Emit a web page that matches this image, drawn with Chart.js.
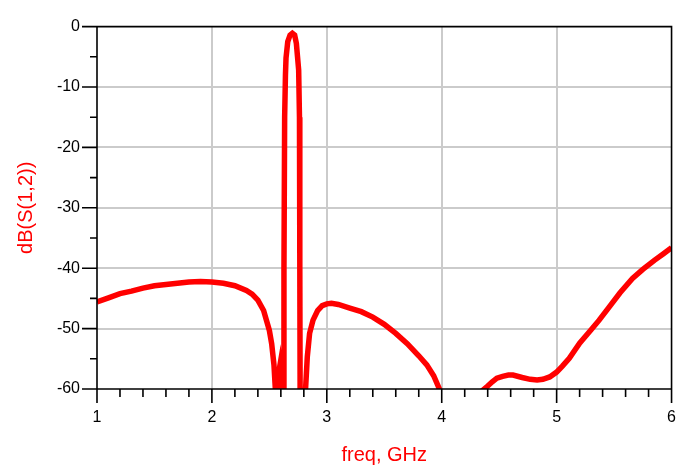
<!DOCTYPE html>
<html>
<head>
<meta charset="utf-8">
<script src="https://cdn.jsdelivr.net/npm/chart.js@4"></script>
<style>
  html, body { margin: 0; padding: 0; background: #fff; }
  #c { display: block; }
</style>
</head>
<body>
<canvas id="c" width="695" height="471"></canvas>
<script>
// ---- data ----
const freqGHz = [
  1.00, 1.10, 1.20, 1.30, 1.40, 1.50, 1.60, 1.70, 1.80, 1.90,
  2.00, 2.10, 2.20, 2.30, 2.35, 2.40, 2.45, 2.50, 2.52, 2.54,
  2.555, 2.575, 2.59, 2.605, 2.615, 2.622, 2.627, 2.633, 2.64, 2.645,
  2.66, 2.68, 2.70, 2.72, 2.735, 2.745, 2.755, 2.762, 2.765, 2.768,
  2.79, 2.815, 2.83, 2.85, 2.88, 2.92, 2.96, 3.00, 3.04, 3.10,
  3.20, 3.30, 3.40, 3.50, 3.60, 3.70, 3.80, 3.87, 3.93, 3.98,
  4.05, 4.20, 4.33, 4.357, 4.40, 4.44, 4.48, 4.53, 4.58, 4.62,
  4.70, 4.77, 4.83, 4.88, 4.94, 5.00, 5.05, 5.11, 5.20, 5.30,
  5.37, 5.45, 5.55, 5.66, 5.75, 5.85, 5.93, 6.00
];
const dbS12 = [
  -45.6, -44.9, -44.2, -43.8, -43.3, -42.9, -42.7, -42.5, -42.3, -42.2,
  -42.3, -42.5, -42.9, -43.7, -44.3, -45.3, -47.0, -50.3, -52.5, -56.0,
  -61.0, -58.0, -56.3, -60.0, -63.0, -62.0, -40.0, -15.0, -8.0, -5.2,
  -2.5, -1.4, -1.1, -1.4, -2.8, -5.0, -7.2, -15.0, -40.0, -64.0,
  -66.0, -60.0, -54.7, -50.8, -48.6, -47.0, -46.2, -45.9, -45.8, -46.0,
  -46.6, -47.2, -48.1, -49.3, -50.8, -52.5, -54.5, -56.0, -57.8, -60.0,
  -63.0, -66.0, -62.0, -60.2, -59.5, -58.8, -58.2, -57.9, -57.7, -57.7,
  -58.1, -58.4, -58.5, -58.4, -58.0, -57.2, -56.2, -54.9, -52.4, -50.2,
  -48.6, -46.6, -44.1, -41.7, -40.2, -38.7, -37.6, -36.6
];
const xTickValues = [1, 2, 3, 4, 5, 6];
const yTickValues = [0, -10, -20, -30, -40, -50, -60];
const xTitle = 'freq, GHz';
const yTitle = 'dB(S(1,2))';

const points = freqGHz.map((f, i) => ({ x: f, y: dbS12[i] }));
const FONT = '"Liberation Sans", Arial, sans-serif';

const framePlugin = {
  id: 'frame',
  afterDraw(chart) {
    const { ctx, chartArea: a, scales: { x, y } } = chart;
    ctx.save();
    ctx.strokeStyle = '#000';
    ctx.lineWidth = 1.6;
    ctx.lineCap = 'butt';
    ctx.beginPath();
    // left axis + bottom axis
    ctx.moveTo(a.left, a.top); ctx.lineTo(a.left, a.bottom);
    ctx.moveTo(a.left, a.bottom); ctx.lineTo(a.right, a.bottom);
    // top and right frame
    ctx.moveTo(a.left, a.top); ctx.lineTo(a.right, a.top); ctx.lineTo(a.right, a.bottom);
    // y ticks (major every 10, minor every 5)
    for (let v = 0; v >= -60; v -= 5) {
      const py = y.getPixelForValue(v);
      const len = (v % 10 === 0) ? 15 : 7;
      ctx.moveTo(a.left - len, py); ctx.lineTo(a.left, py);
    }
    // x ticks (major every 1, minor every 0.2)
    for (let k = 0; k <= 25; k++) {
      const v = 1 + k * 0.2;
      const px = x.getPixelForValue(v);
      const len = (k % 5 === 0) ? 14 : 8;
      ctx.moveTo(px, a.bottom); ctx.lineTo(px, a.bottom + len);
    }
    ctx.stroke();
    ctx.restore();
  }
};

new Chart(document.getElementById('c'), {
  type: 'scatter',
  data: {
    datasets: [{
      data: points,
      showLine: true,
      borderColor: '#ff0000',
      backgroundColor: '#ff0000',
      borderWidth: 5.5,
      pointRadius: 0,
      tension: 0,
      clip: 0
    }]
  },
  options: {
    responsive: false,
    animation: false,
    devicePixelRatio: 1,
    layout: { padding: { left: 0, right: 23, top: 25, bottom: 0 } },
    plugins: { legend: { display: false }, tooltip: { enabled: false } },
    scales: {
      x: {
        type: 'linear',
        min: 1, max: 6,
        afterBuildTicks: (s) => { s.ticks = xTickValues.map(v => ({ value: v })); },
        afterFit: (s) => { s.height = 82; },
        ticks: {
          color: '#000',
          font: { family: FONT, size: 16 },
          padding: 19,
          maxRotation: 0,
          callback: (v) => String(v)
        },
        grid: {
          drawTicks: false,
          lineWidth: 2,
          color: (c) => (c.tick && (c.tick.value === 1 || c.tick.value === 6)) ? 'rgba(0,0,0,0)' : '#cbcbcb'
        },
        border: { display: false },
        title: {
          display: true,
          text: xTitle,
          color: '#ff0000',
          font: { family: FONT, size: 20 },
          padding: { top: 0, bottom: 4 }
        }
      },
      y: {
        type: 'linear',
        min: -60, max: 0,
        afterBuildTicks: (s) => { s.ticks = yTickValues.map(v => ({ value: v })); },
        afterFit: (s) => { s.width = 97; },
        ticks: {
          color: '#000',
          font: { family: FONT, size: 16 },
          padding: 17,
          callback: (v) => String(v)
        },
        grid: {
          drawTicks: false,
          lineWidth: 2,
          color: (c) => (c.tick && (c.tick.value === 0 || c.tick.value === -60)) ? 'rgba(0,0,0,0)' : '#cbcbcb'
        },
        border: { display: false },
        title: {
          display: true,
          text: yTitle,
          color: '#ff0000',
          font: { family: FONT, size: 20 },
          padding: { top: 14, bottom: 0 }
        }
      }
    }
  },
  plugins: [framePlugin]
});
</script>
</body>
</html>
